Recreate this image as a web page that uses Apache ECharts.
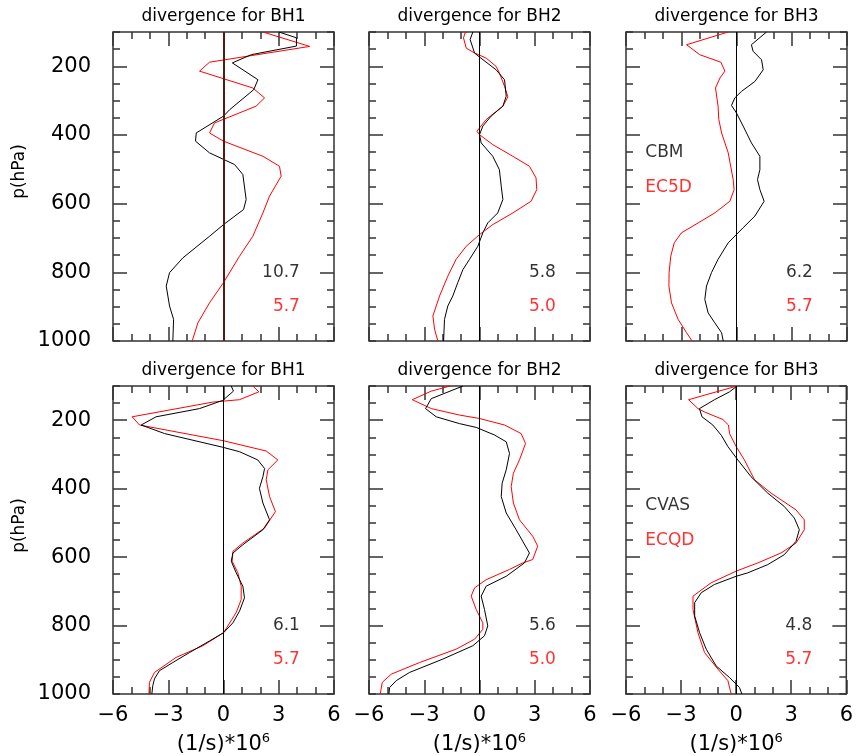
<!DOCTYPE html>
<html><head><meta charset="utf-8">
<script src="https://cdn.jsdelivr.net/npm/echarts@6/dist/echarts.min.js"></script>
<style>html,body{margin:0;padding:0;background:#fff}#c{width:856px;height:756px}</style>
</head><body><div id="c"></div><script>
// ---------------- data ----------------
const panelTitles = ['divergence for BH1','divergence for BH2','divergence for BH3','divergence for BH1','divergence for BH2','divergence for BH3'];
const xTickValues = [-6,-3,0,3,6];
const yLabelValues = [200,400,600,800,1000];
const yMajorTicks = [200,400,600,800];
const xAxisName = '(1/s)*10';
const xAxisNameSup = '6';
const yAxisName = 'p(hPa)';
const blackScores = ['10.7','5.8','6.2','6.1','5.6','4.8'];
const redScores = ['5.7','5.0','5.7','5.7','5.0','5.7'];
const topLegend = ['CBM','EC5D'];
const bottomLegend = ['CVAS','ECQD'];

// top row: black = CBM, red = EC5D
const p_CBM_BH1 = [100,117,141,166,190,239,268,326,345,394,418,452,486,515,588,617,661,695,758,801,840,898,937,1000];
const d_CBM_BH1 = [3.01,3.96,3.96,1.51,0.48,1.87,1.64,0.34,0,-1.48,-1.52,-0.76,0.6,1.05,1.23,1.09,0,-0.76,-2.21,-2.93,-3.11,-2.93,-2.71,-2.75];
const p_EC5D_BH1 = [100,142,188,214,263,292,316,365,394,418,462,491,520,578,627,695,753,830,889,947,1000];
const d_EC5D_BH1 = [2.14,4.68,-0.76,-1.3,1.59,2.23,1.77,-0.49,-0.76,0,2.14,3.04,3.13,2.5,2.14,1.59,0.87,0,-0.76,-1.39,-1.7];

const p_CBM_BH2 = [100,122,161,173,210,239,287,316,345,374,399,423,462,501,549,588,627,656,685,724,762,792,830,869,898,937,1000];
const d_CBM_BH2 = [-0.36,-0.51,-0.27,0,0.9,1.36,1.45,1.27,0.63,0.18,0,0.09,0.72,1.08,1.18,1.27,0.99,0.45,0.18,-0.09,-0.54,-0.9,-1.18,-1.45,-1.72,-1.9,-1.95];
const p_EC5D_BH2 = [100,117,147,161,176,200,219,258,289,316,355,389,399,428,462,491,525,559,593,627,661,690,724,762,811,869,927,966,1000];
const d_EC5D_BH2 = [-0.76,-0.87,-0.72,-0.27,0.36,0.9,1.08,1.36,1.54,1.27,0.36,-0.14,0,0.72,1.81,2.71,3.07,3.11,2.8,1.81,0.72,0,-0.72,-1.27,-1.72,-2.17,-2.53,-2.44,-2.26];

const p_CBM_BH3 = [100,137,156,181,210,244,273,292,314,336,374,423,462,501,530,559,593,636,670,714,762,801,840,879,918,947,976,1000];
const d_CBM_BH3 = [1.63,0.81,0.9,1.36,1.45,1.0,0.27,-0.09,-0.27,0,0.36,0.81,1.27,1.27,1.14,1.27,1.5,1.0,0.36,-0.45,-1.0,-1.36,-1.63,-1.72,-1.54,-1.18,-0.81,-0.72];
const p_EC5D_BH3 = [100,137,166,188,214,234,263,316,355,394,452,530,559,593,627,656,685,714,753,801,840,889,937,976,1000];
const d_EC5D_BH3 = [-0.45,-2.71,-2.0,-0.85,-0.63,-0.9,-1.14,-1.0,-0.96,-0.81,-0.45,-0.18,-0.13,-0.36,-1.18,-2.08,-2.99,-3.38,-3.57,-3.66,-3.67,-3.53,-3.17,-2.71,-2.41];

// bottom row: black = CVAS, red = ECQD
const p_CVAS_BH1 = [100,115,142,166,190,214,239,279,292,316,341,365,399,442,491,520,564,588,612,646,685,719,758,792,821,845,879,908,932,956,976,1000];
const d_CVAS_BH1 = [0.42,0.54,-0.04,-1.3,-3.66,-4.47,-3.2,-0.04,0.87,1.86,2.23,2.14,1.95,2.14,2.5,2.14,1.05,0.51,0.42,0.69,1.05,1.14,0.87,0.51,0,-0.76,-1.85,-2.75,-3.48,-3.75,-3.84,-3.89];
const p_ECQD_BH1 = [100,117,140,147,190,214,260,290,316,345,374,423,467,515,559,583,612,646,685,724,762,821,859,893,937,966,1000];
const d_ECQD_BH1 = [1.59,1.92,0.87,-0.58,-4.96,-4.56,0,2.32,2.95,2.41,2.32,2.5,2.82,2.23,1.05,0.51,0.47,0.78,0.96,0.96,0.69,0,-1.12,-2.57,-3.75,-4.02,-4.05];

const p_CVAS_BH2 = [100,137,166,190,210,221,243,263,297,345,384,423,471,520,588,617,656,685,714,753,801,830,859,898,937,961,981,1000];
const d_CVAS_BH2 = [-0.9,-2.62,-2.93,-2.35,-1.08,-0.18,0.81,1.45,1.63,1.45,1.23,1.18,1.45,1.99,2.71,2.44,1.45,0.36,0.09,0.27,0.45,0.27,-0.36,-1.99,-3.8,-4.52,-4.88,-4.92];
const p_ECQD_BH2 = [100,115,140,166,185,195,214,239,268,316,355,394,442,491,539,568,607,617,636,666,690,714,753,792,811,840,869,908,942,966,1000];
const d_ECQD_BH2 = [-1.59,-2.62,-3.65,-2.62,-1.08,0,1.36,2.26,2.5,2.17,1.84,1.72,1.84,2.17,2.89,3.16,2.89,2.35,1.63,0.36,-0.27,-0.45,-0.18,0.18,0.18,-0.27,-1.27,-3.25,-4.79,-5.28,-5.39];

const p_CVAS_BH3 = [100,117,140,166,190,214,244,277,316,365,413,452,486,520,554,593,622,646,656,680,704,733,772,821,869,918,952,981,1000];
const d_CVAS_BH3 = [0.05,-0.36,-1.18,-2.0,-1.86,-1.27,-0.81,-0.45,0.09,0.81,1.72,2.62,3.17,3.44,3.26,2.62,1.72,0.63,0,-1.18,-1.9,-2.26,-2.26,-1.99,-1.63,-1.09,-0.36,0.18,0.31];
const p_ECQD_BH3 = [100,140,166,176,198,214,239,277,316,374,413,462,491,520,559,588,617,641,675,714,753,821,879,927,961,1000];
const d_ECQD_BH3 = [0.05,-2.59,-2.08,-1.72,-0.72,-0.42,-0.36,0,0.45,1.0,1.9,3.26,3.71,3.71,3.26,2.44,1.18,0,-1.36,-2.35,-2.35,-2.08,-1.72,-1.0,-0.45,-0.27];

const blackSeries = [[p_CBM_BH1,d_CBM_BH1],[p_CBM_BH2,d_CBM_BH2],[p_CBM_BH3,d_CBM_BH3],[p_CVAS_BH1,d_CVAS_BH1],[p_CVAS_BH2,d_CVAS_BH2],[p_CVAS_BH3,d_CVAS_BH3]];
const redSeries = [[p_EC5D_BH1,d_EC5D_BH1],[p_EC5D_BH2,d_EC5D_BH2],[p_EC5D_BH3,d_EC5D_BH3],[p_ECQD_BH1,d_ECQD_BH1],[p_ECQD_BH2,d_ECQD_BH2],[p_ECQD_BH3,d_ECQD_BH3]];

// ---------------- layout ----------------
const FONT = 'DejaVu Sans';
const colLeft = [113, 369, 626];
const rowTop = [32, 386];
const panelW = 221, panelH = 309;
const scoreX = 4.15, scoreP = [800, 900];
const legendX = -4.95, legendP = [450, 553];

const grids = [], xAxes = [], yAxes = [], series = [], graphics = [];
function pairs(ps, ds){ return ps.map((p,i)=>[ds[i], p]); }
const tickStyle = {color:'#333', width:1.5};

for (let g = 0; g < 6; g++) {
  const r = Math.floor(g/3), c = g%3;
  grids.push({left: colLeft[c], top: rowTop[r], width: panelW, height: panelH,
    show: true, borderColor: '#333', borderWidth: 1.5, backgroundColor: 'transparent'});
  const base = xAxes.length;
  const mkX = (pos, interval, len, labels) => ({
    type:'value', gridIndex:g, position:pos, min:-6, max:6, interval,
    axisLine:{show:false, onZero:false}, splitLine:{show:false},
    axisTick:{show:true, inside:true, length:len, lineStyle:tickStyle},
    axisLabel:{show:labels, showMinLabel:true, showMaxLabel:true, margin:11,
      formatter: v => (v<0 ? '\u2212' + (-v) : String(v)),
      fontSize:21, color:'#000', fontFamily:FONT},
    name: labels ? xAxisName + '{sup|' + xAxisNameSup + '}' : '',
    nameLocation:'middle', nameGap: 38,
    nameTextStyle:{fontSize:21, color:'#000', fontFamily:FONT,
      rich:{sup:{fontSize:13, color:'#000', fontFamily:FONT, verticalAlign:'bottom', padding:[0,0,12,0]}}}
  });
  xAxes.push(mkX('bottom', 1, 7, false));
  xAxes.push(mkX('bottom', 3, 14, r===1));
  xAxes.push(mkX('top', 1, 7, false));
  xAxes.push(mkX('top', 3, 14, false));
  const mkY = (pos, tickVals, len, labels) => ({
    type:'value', gridIndex:g, position:pos, min:100, max:1000, inverse:true, interval:50,
    axisLine:{show:false, onZero:false}, splitLine:{show:false},
    axisTick:{show:true, inside:true, length:len, lineStyle:tickStyle, customValues: tickVals},
    axisLabel:{show:labels, customValues: labels ? yLabelValues : undefined, margin:22,
      formatter: v => String(v),
      fontSize:21, color:'#000', fontFamily:FONT}
  });
  yAxes.push(mkY('left', undefined, 7, false));
  yAxes.push(mkY('left', yMajorTicks, 14, c===0));
  yAxes.push(mkY('right', undefined, 7, false));
  yAxes.push(mkY('right', yMajorTicks, 14, false));

  const xi = base, yi = base;
  series.push({type:'line', xAxisIndex:xi, yAxisIndex:yi, data: pairs(redSeries[g][0], redSeries[g][1]),
    showSymbol:false, symbol:'none', lineStyle:{color:'#ff0000', width:1}, z:3});
  series.push({type:'line', xAxisIndex:xi, yAxisIndex:yi, data: pairs(blackSeries[g][0], blackSeries[g][1]),
    showSymbol:false, symbol:'none', lineStyle:{color:'#000', width:1}, z:4,
    markLine:{silent:true, symbol:'none', label:{show:false}, animation:false,
      lineStyle:{color: g===0 ? '#5a1812' : '#000', width: g===0 ? 2 : 1, type:'solid'},
      data:[{xAxis:0}]}});
  // scores
  series.push({type:'scatter', xAxisIndex:xi, yAxisIndex:yi, symbolSize:0, silent:true, z:5,
    data:[{value:[scoreX, scoreP[0]], name:blackScores[g], c:'#000'}, {value:[scoreX, scoreP[1]], name:redScores[g], c:'#ff0000'}].map(d=>({
      value:d.value, label:{show:true, position:'left', distance:0, formatter:d.name, color:d.c, fontSize:17, fontFamily:FONT}}))});
  if (c === 2) {
    const leg = r===0 ? topLegend : bottomLegend;
    series.push({type:'scatter', xAxisIndex:xi, yAxisIndex:yi, symbolSize:0, silent:true, z:5,
      data:[[leg[0], '#000', legendP[0]], [leg[1], '#ff0000', legendP[1]]].map(d=>({
        value:[legendX, d[2]], label:{show:true, position:'right', distance:0, formatter:d[0], color:d[1], fontSize:17, fontFamily:FONT}}))});
  }
  graphics.push({type:'text', x: colLeft[c] + panelW/2, y: rowTop[r] - 15,
    style:{text: panelTitles[g], fontSize:17, fontFamily:FONT, fill:'#000', align:'center', verticalAlign:'middle'}});
}
for (let r = 0; r < 2; r++) {
  graphics.push({type:'text', x: 20, y: rowTop[r] + panelH/2 - 15, rotation: Math.PI/2,
    style:{text: yAxisName, fontSize:17, fontFamily:FONT, fill:'#000', align:'center', verticalAlign:'middle'}});
}
const chart = echarts.init(document.getElementById('c'), null, {renderer:'canvas'});
chart.setOption({animation:false, backgroundColor:'#fff', grid:grids, xAxis:xAxes, yAxis:yAxes, series, graphic:graphics});
</script></body></html>
